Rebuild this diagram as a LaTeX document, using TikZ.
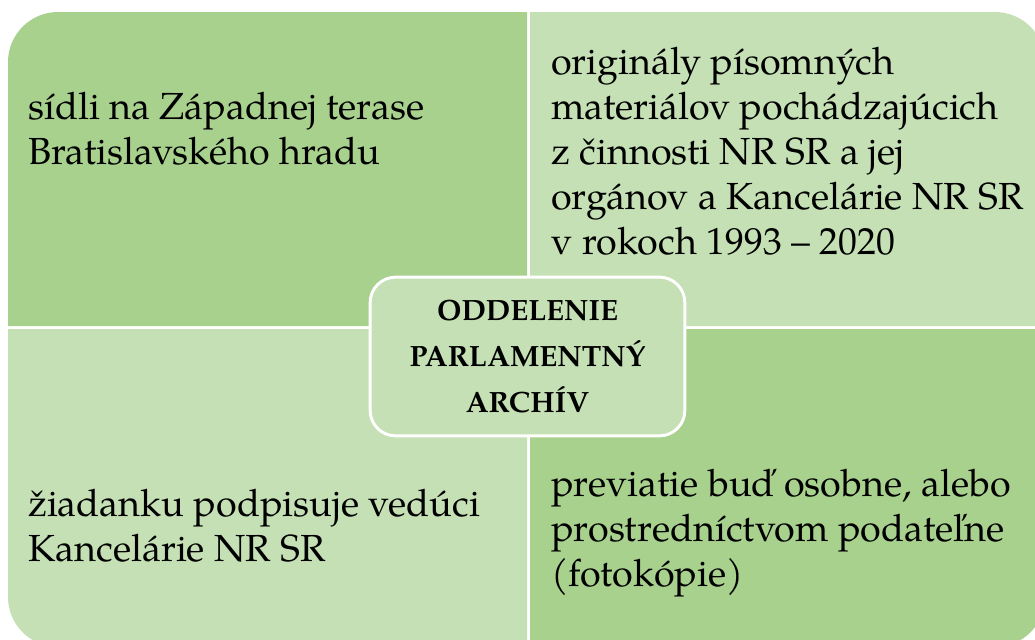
\documentclass[tikz,border=0pt]{standalone}
\usepackage{fontspec}
\setmainfont{texgyrepagella-regular.otf}[BoldFont=texgyrepagella-bold.otf]
\definecolor{gdark}{RGB}{169,209,142}
\definecolor{glight}{RGB}{197,224,180}
\tikzset{
  quadtext/.style={anchor=base west, align=left, inner sep=0pt, font=\fontsize{28.3}{33.75}\selectfont, text=black},
  centerbox/.style={draw=white, line width=2.2pt, fill=glight, rounded corners=19pt, minimum width=236pt, minimum height=119pt, align=center, font=\fontsize{22}{34.5}\selectfont\bfseries, inner sep=0pt}
}
\begin{document}
\begin{tikzpicture}[x=0.75pt,y=-0.75pt]
\useasboundingbox (0,0) rectangle (1035,639);
\begin{scope}
\clip (0,0) rectangle (1035,639);
% quadrants
\fill[gdark] (8,326) -- (8,150) [rounded corners=37.5pt] -- (8,12) -- (300,12) [sharp corners] -- (527,12) -- (527,326) -- cycle;
\fill[glight] (530,326) -- (530,12) -- (800,12) [rounded corners=37.5pt] -- (1045,12) -- (1045,150) [sharp corners] -- (1045,326) -- cycle;
\fill[glight] (8,329) -- (527,329) -- (527,647) -- (300,647) [rounded corners=37.5pt] -- (8,647) -- (8,500) [sharp corners] -- cycle;
\fill[gdark] (530,329) -- (1045,329) -- (1045,500) [rounded corners=37.5pt] -- (1045,647) -- (800,647) [sharp corners] -- (530,647) -- cycle;
\end{scope}
% anchor base = baseline of the last line
\node[quadtext] (tl) at (28,164) {sídli na Západnej terase\\Bratislavského hradu};
\node[quadtext] (tr) at (551,254) {originály písomných\\materiálov pochádzajúcich\\z činnosti NR SR a jej\\orgánov a Kancelárie NR SR\\v rokoch 1993 – 2020};
\node[quadtext] (bl) at (28,561) {žiadanku podpisuje vedúci\\Kancelárie NR SR};
\node[quadtext] (br) at (551,586) {previatie buď osobne, alebo\\prostredníctvom podateľne\\(fotokópie)};
\node[centerbox] (c) at (527.5,356.5) {ODDELENIE\\PARLAMENTNÝ\\ARCHÍV};
\end{tikzpicture}
\end{document}
